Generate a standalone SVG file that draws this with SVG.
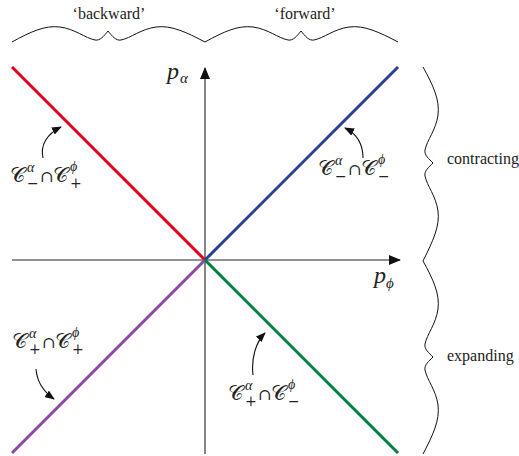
<svg xmlns="http://www.w3.org/2000/svg" width="519" height="456" viewBox="0 0 519 456">
<defs>
<style>
.ax{stroke:#222;stroke-width:1.1;fill:none}
.br{stroke:#111;stroke-width:1;fill:none}
.ln{stroke-width:3;fill:none}
.ca{stroke:#111;stroke-width:1.1;fill:none}
.lbl{font-family:"Liberation Serif",serif;font-size:16px;fill:#222}
.m{font-family:"DejaVu Serif","Liberation Serif",serif;fill:#222}
.big{font-size:21px}
.cap{font-size:16px}
.sm{font-size:14px}
.it{font-family:"Liberation Serif",serif;font-style:italic;fill:#222}
</style>
<marker id="ah" viewBox="0 0 12 10" refX="11" refY="5" markerWidth="12" markerHeight="10" markerUnits="userSpaceOnUse" orient="auto">
<path d="M0,0 L12,5 L0,10 Z" fill="#111"/>
</marker>
<marker id="ch" viewBox="0 0 10 8" refX="9" refY="4" markerWidth="10" markerHeight="8" markerUnits="userSpaceOnUse" orient="auto">
<path d="M0,0 L10,4 L0,8 Z" fill="#111"/>
</marker>
</defs>
<g id="axes">
<line class="ax" x1="205" y1="454" x2="205" y2="68" marker-end="url(#ah)"/>
<line class="ax" x1="12" y1="260" x2="400" y2="260" marker-end="url(#ah)"/>
<text class="it" x="167" y="79" font-size="24">p</text>
<text class="it" x="180" y="83" font-size="15">α</text>
<text class="it" x="374" y="283" font-size="24">p</text>
<text class="it" x="386" y="288" font-size="15">ϕ</text>
</g>
<g id="lines">
<line class="ln" x1="12" y1="67" x2="205" y2="260" stroke="#e3001b"/>
<line class="ln" x1="205" y1="260" x2="398" y2="67" stroke="#2a3f99"/>
<line class="ln" x1="12" y1="453" x2="205" y2="260" stroke="#8b48a0"/>
<line class="ln" x1="205" y1="260" x2="398" y2="453" stroke="#00803f"/>
</g>
<g id="top-brace">
<path class="br" d="M12,42 C30,32 45,25 60,27 C75,29 85,38 95,40 C100,41 104,36 108,31 C112,36 116,41 121,40 C131,38 141,29 156,27 C171,25 186,32 205,42 C223,32 238,25 253,27 C268,29 278,38 288,40 C293,41 297,36 301,31 C305,36 309,41 314,40 C324,38 334,29 349,27 C364,25 379,32 398,42"/>
<text class="lbl" x="109" y="19" text-anchor="middle">‘backward’</text>
<text class="lbl" x="305" y="19" text-anchor="middle">‘forward’</text>
</g>
<g id="right-brace">
<path class="br" d="M423,67 C433,85 440,100 438,115 C436,130 427,140 425,150 C424,155 429,159 433,163 C429,167 424,171 425,176 C427,186 436,196 438,211 C440,226 433,241 423,261 C433,279 440,294 438,309 C436,324 427,334 425,344 C424,349 429,353 433,357 C429,361 424,365 425,370 C427,380 436,390 438,405 C440,420 433,435 423,454"/>
<text class="lbl" x="447" y="164">contracting</text>
<text class="lbl" x="447" y="361">expanding</text>
</g>
<g id="label-red" transform="translate(10,182)">
<text class="m big" x="0" y="0">𝒞</text>
<text class="it sm" x="17" y="-10">α</text>
<text class="m sm" x="17" y="6">−</text>
<text class="m cap" x="30" y="0">∩</text>
<text class="m big" x="43" y="0">𝒞</text>
<text class="it sm" x="60" y="-11">ϕ</text>
<text class="m sm" x="60" y="6">+</text>
</g>
<g id="label-blue" transform="translate(318,175)">
<text class="m big" x="0" y="0">𝒞</text>
<text class="it sm" x="17" y="-10">α</text>
<text class="m sm" x="17" y="6">−</text>
<text class="m cap" x="30" y="0">∩</text>
<text class="m big" x="43" y="0">𝒞</text>
<text class="it sm" x="60" y="-11">ϕ</text>
<text class="m sm" x="60" y="6">−</text>
</g>
<g id="label-purple" transform="translate(12,348)">
<text class="m big" x="0" y="0">𝒞</text>
<text class="it sm" x="17" y="-10">α</text>
<text class="m sm" x="17" y="6">+</text>
<text class="m cap" x="30" y="0">∩</text>
<text class="m big" x="43" y="0">𝒞</text>
<text class="it sm" x="60" y="-11">ϕ</text>
<text class="m sm" x="60" y="6">+</text>
</g>
<g id="label-green" transform="translate(228,400)">
<text class="m big" x="0" y="0">𝒞</text>
<text class="it sm" x="17" y="-10">α</text>
<text class="m sm" x="17" y="6">+</text>
<text class="m cap" x="30" y="0">∩</text>
<text class="m big" x="43" y="0">𝒞</text>
<text class="it sm" x="60" y="-11">ϕ</text>
<text class="m sm" x="60" y="6">−</text>
</g>
<g id="connectors">
<path class="ca" d="M43,158 C40,145 47,134 61,127" marker-end="url(#ch)"/>
<path class="ca" d="M363,158 C363,145 357,134 345,128" marker-end="url(#ch)"/>
<path class="ca" d="M36,369 C37,382 44,392 54,399" marker-end="url(#ch)"/>
<path class="ca" d="M253,375 C251,358 256,342 265,333" marker-end="url(#ch)"/>
</g>
</svg>
